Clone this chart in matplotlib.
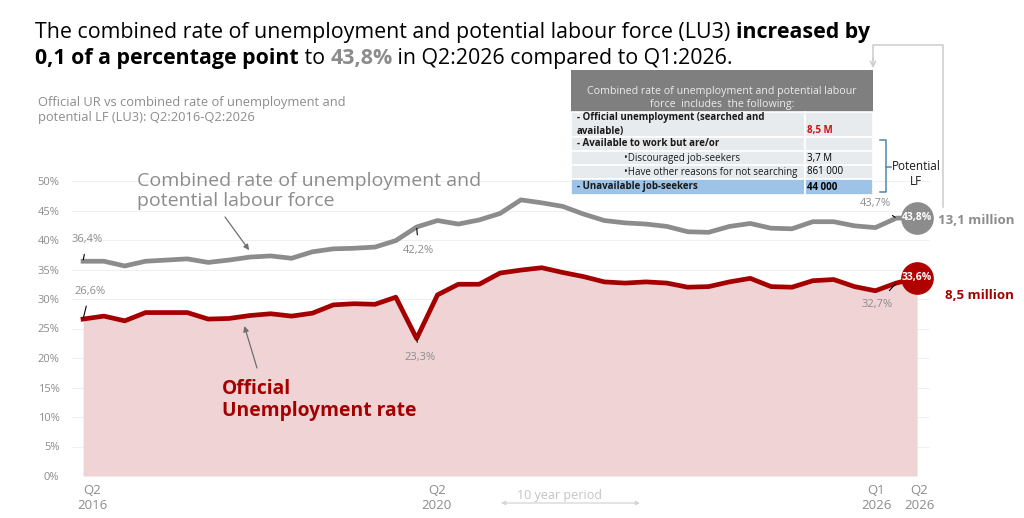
import numpy as np
import matplotlib
matplotlib.use("Agg")
import matplotlib.pyplot as plt
from matplotlib.patches import Rectangle
from matplotlib.transforms import ScaledTranslation

plt.rcParams['font.family'] = ['Open Sans', 'DejaVu Sans']

# quarters Q2 2016 .. Q2 2026
quarters = []
for year in range(2016, 2027):
    for q in range(1, 5):
        if (year == 2016 and q < 2) or (year == 2026 and q > 2):
            continue
        quarters.append(f"Q{q} {year}")

# combined rate of unemployment and potential labour force (LU3), %
lu3 = [36.4, 36.4, 35.6, 36.4, 36.6, 36.8, 36.2, 36.6, 37.1, 37.3,
       36.9, 38.0, 38.5, 38.6, 38.8, 39.9, 42.2, 43.3, 42.7, 43.4,
       44.5, 46.8, 46.3, 45.7, 44.4, 43.3, 42.9, 42.7, 42.3, 41.4,
       41.3, 42.3, 42.8, 42.0, 41.9, 43.1, 43.1, 42.4, 42.1, 43.7,
       43.8]

# official unemployment rate, %
official = [26.6, 27.1, 26.3, 27.7, 27.7, 27.7, 26.6, 26.7, 27.2, 27.5,
            27.1, 27.6, 29.0, 29.2, 29.1, 30.3, 23.3, 30.7, 32.5, 32.5,
            34.4, 34.9, 35.3, 34.5, 33.8, 32.9, 32.7, 32.9, 32.7, 32.0,
            32.1, 32.9, 33.5, 32.1, 32.0, 33.1, 33.3, 32.1, 31.4, 32.7,
            33.6]

tick_quarters = ["Q2 2016", "Q2 2020", "Q1 2026", "Q2 2026"]
tick_labels = ["Q2\n2016", "Q2\n2020", "Q1\n2026", "Q2\n2026"]
tick_shift_px = [9, 20, -20, 2]

lu3_millions = "13,1 million"
official_millions = "8,5 million"

table_header = "Combined rate of unemployment and potential labour\nforce  includes  the following:"
table_items = ["- Official unemployment (searched and\navailable)",
               "- Available to work but are/or",
               "\u2022Discouraged job-seekers",
               "\u2022Have other reasons for not searching",
               "- Unavailable job-seekers"]
table_values = ["8,5 M", "", "3,7 M", "861 000", "44 000"]

GRAY = '#8c8c8c'
RED = '#a50000'
PINK = '#f0d3d5'


def fmt(v):
    return f"{v:.1f}%".replace('.', ',')


x = np.arange(len(quarters))

fig = plt.figure(figsize=(10.24, 5.18), dpi=100)
ax = fig.add_axes([72 / 1024, 42 / 518, 858 / 1024, 295 / 518])
ax.set_xlim(-0.53, 40.62)
ax.set_ylim(0, 50)

ax.fill_between(x, 0, official, color=PINK, lw=0, zorder=1)
ax.plot(x, lu3, color=GRAY, lw=3.4, zorder=3, solid_joinstyle='round')
ax.plot(x, official, color=RED, lw=3.4, zorder=4, solid_joinstyle='round')

# highlighted last quarter
ax.plot(x[-1], lu3[-1], 'o', ms=22.5, color=GRAY, zorder=6, clip_on=False)
ax.plot(x[-1], official[-1], 'o', ms=22.5, color='#b00000', zorder=6, clip_on=False)
ax.text(x[-1], lu3[-1], fmt(lu3[-1]), color='white', fontsize=7.5,
        fontweight='bold', ha='center', va='center', zorder=7)
ax.text(x[-1], official[-1], fmt(official[-1]), color='white', fontsize=7.5,
        fontweight='bold', ha='center', va='center', zorder=7)
ax.annotate(lu3_millions, xy=(x[-1], lu3[-1]), xytext=(21, -3),
            textcoords='offset pixels', color=GRAY, fontsize=9.5,
            fontweight='bold', va='center', ha='left')
ax.annotate(official_millions, xy=(x[-1], official[-1]), xytext=(28, -18),
            textcoords='offset pixels', color=RED, fontsize=9.5,
            fontweight='bold', va='center', ha='left')

# value labels with leader lines
point_labels = [(lu3, 0, (4, 22)), (official, 0, (7, 28)),
                (lu3, 16, (2, -23)), (official, 16, (3, -19)),
                (lu3, 39, (-21, 15)), (official, 39, (-19, -21))]
for series, i, off in point_labels:
    ax.annotate(fmt(series[i]), xy=(x[i], series[i]), xytext=off,
                textcoords='offset pixels', color=GRAY, fontsize=8,
                ha='center', va='center', zorder=8,
                arrowprops=dict(arrowstyle='-', color='black', lw=0.8,
                                shrinkA=5, shrinkB=1))

# axes styling
ax.set_yticks(range(0, 51, 5))
ax.set_yticklabels([f"{v}%" for v in range(0, 51, 5)])
ax.tick_params(axis='y', length=0, pad=9, labelsize=8, labelcolor=GRAY)
ax.grid(axis='y', color='#f0f0f0', lw=0.8, zorder=0)
ax.set_axisbelow(True)
for s in ax.spines.values():
    s.set_visible(False)

ax.set_xticks([quarters.index(q) for q in tick_quarters])
ax.set_xticklabels(tick_labels)
ax.tick_params(axis='x', length=0, pad=6, labelsize=9.5, labelcolor=GRAY)
for lab, sh in zip(ax.get_xticklabels(), tick_shift_px):
    lab.set_linespacing(1.15)
    lab.set_transform(lab.get_transform() + ScaledTranslation(sh / 100, 0, fig.dpi_scale_trans))

# overlay in pixel coordinates for text blocks
ov = fig.add_axes([0, 0, 1, 1], zorder=5)
ov.set_xlim(0, 1024)
ov.set_ylim(518, 0)
ov.axis('off')

# title with mixed styles
renderer = fig.canvas.get_renderer()


def rich_line(x0, y0, parts, size):
    xp = x0
    for txt, weight, color in parts:
        t = ov.text(xp, y0, txt, fontsize=size, fontweight=weight, color=color,
                    ha='left', va='baseline')
        bb = t.get_window_extent(renderer)
        xp += bb.width


rich_line(35, 38, [("The combined rate of unemployment and potential labour force (LU3) ", 'normal', 'black'),
                   ("increased by", 'bold', 'black')], 15.4)
rich_line(35, 64, [("0,1 of a percentage point", 'bold', 'black'),
                   (" to ", 'normal', 'black'),
                   ("43,8%", 'bold', GRAY),
                   (" in Q2:2026 compared to Q1:2026.", 'normal', 'black')], 15.4)

ov.text(38, 110, "Official UR vs combined rate of unemployment and\npotential LF (LU3): Q2:2016-Q2:2026",
        fontsize=9.3, color=GRAY, ha='left', va='center', linespacing=1.25)

# series annotations
ov.text(137, 191, "Combined rate of unemployment and\npotential labour force", fontsize=14,
        color=GRAY, ha='left', va='center', linespacing=1.2)
ax.annotate("", xy=(8.2, np.interp(8.2, x, lu3)), xytext=(225, 217), textcoords=ov.transData,
            arrowprops=dict(arrowstyle='-|>', color='#6f6f6f', lw=0.9, mutation_scale=8,
                            shrinkA=0, shrinkB=6))
ov.text(222, 400, "Official\nUnemployment rate", fontsize=13.9, fontweight='bold',
        color=RED, ha='left', va='center', linespacing=1.15)
ax.annotate("", xy=(7.6, np.interp(7.6, x, official)), xytext=(257, 368), textcoords=ov.transData,
            arrowprops=dict(arrowstyle='-|>', color='#6f6f6f', lw=0.9, mutation_scale=8,
                            shrinkA=0, shrinkB=7))

# 10 year period
ov.text(517, 496, "10 year period", fontsize=9, color='#c4c4c4', ha='left', va='center')
ov.annotate("", xy=(640, 503), xytext=(501, 503),
            arrowprops=dict(arrowstyle='<|-|>', color='#d4d4d4', lw=0.9, mutation_scale=6,
                            shrinkA=0, shrinkB=0))

# table
tx0, tsplit, tx1 = 571, 805, 873
ov.add_patch(Rectangle((tx0, 70), tx1 - tx0, 42, color='#7f7f7f', lw=0))
ov.text((tx0 + tx1) / 2, 98, table_header, fontsize=7.7, color='#ececec',
        ha='center', va='center', linespacing=1.2)
row_edges = [112, 137, 151, 165, 179, 195]
row_fill = ['#e8ebee', '#e8ebee', '#e8ebee', '#e8ebee', '#9dc3e6']
row_bold = [True, True, False, False, True]
row_indent = [6, 6, 53, 53, 6]
value_color = ['#d01010', 'black', 'black', 'black', 'black']
for k, (item, val) in enumerate(zip(table_items, table_values)):
    y0, y1 = row_edges[k], row_edges[k + 1]
    for a, b in [(tx0, tsplit), (tsplit, tx1)]:
        ov.add_patch(Rectangle((a, y0), b - a, y1 - y0, facecolor=row_fill[k],
                               edgecolor='white', lw=1.2))
    w = 'bold' if row_bold[k] else 'normal'
    ov.text(tx0 + row_indent[k], (y0 + y1) / 2, item, fontsize=7, fontweight=w,
            color='#1a1a1a', ha='left', va='center', linespacing=1.35)
    vy = (y0 + y1) / 2 if k else y1 - 6
    ov.text(tsplit + 2, vy, val, fontsize=7, fontweight='bold' if k in (0, 4) else 'normal',
            color=value_color[k], ha='left', va='center')

# potential LF brace
bc = '#4e87b0'
ov.plot([880, 885.5, 885.5, 880], [140, 140, 192, 192], color=bc, lw=1.1)
ov.plot([885.5, 891], [167, 167], color=bc, lw=1.1)
ov.text(916, 174, "Potential\nLF", fontsize=8.5, color='#1a1a1a', ha='center',
        va='center', linespacing=1.25)

# connector from last point to table
ov.plot([943, 943, 873, 873], [207, 45, 45, 60], color='#cccccc', lw=1.1)
ov.annotate("", xy=(873, 68), xytext=(873, 58),
            arrowprops=dict(arrowstyle='->', color='#cccccc', lw=1.1, mutation_scale=9,
                            shrinkA=0, shrinkB=0))

fig.savefig("out.png", dpi=100)
